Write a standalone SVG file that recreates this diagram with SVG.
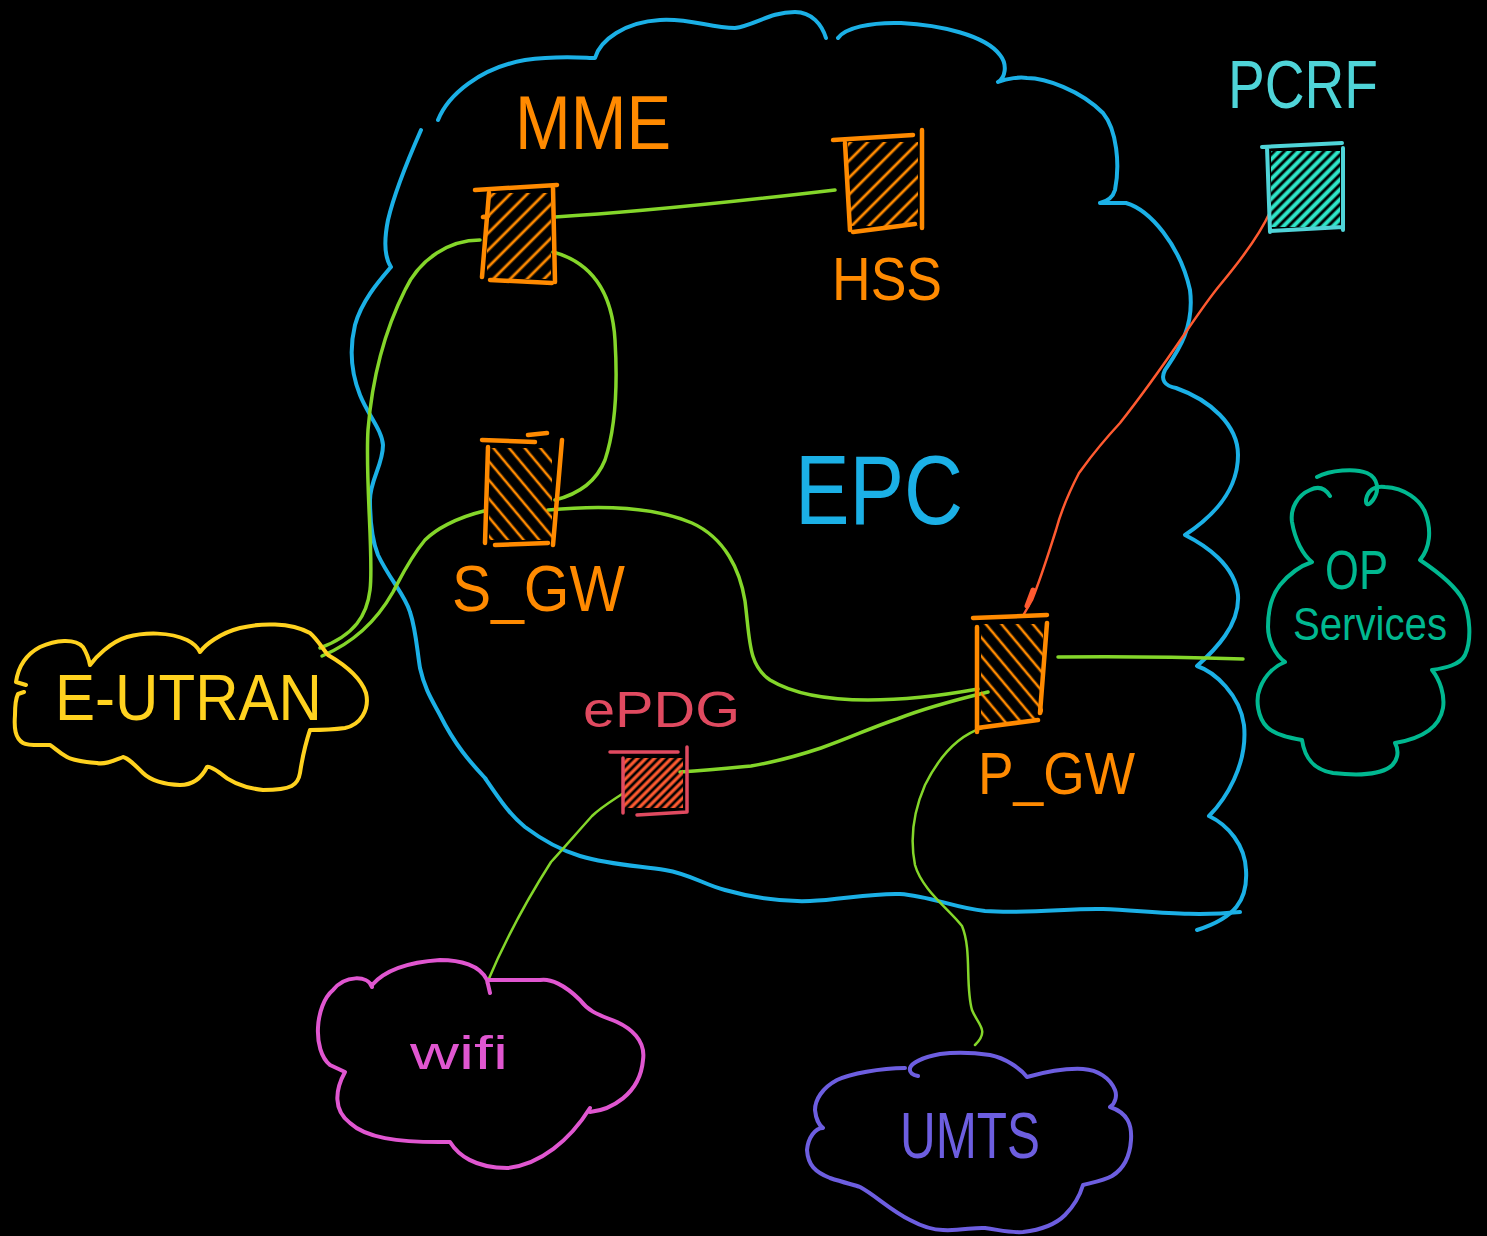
<svg xmlns="http://www.w3.org/2000/svg" width="1487" height="1236" viewBox="0 0 1487 1236">
  <style>
    .stroke { fill: none; stroke-linecap: round; stroke-linejoin: round; }
    .cloud { stroke-width: 4; }
    .epc { stroke: #1bb0e6; }
    .link { stroke: #84d62a; stroke-width: 3.5; }
    .thin { stroke-width: 2.5; }
    .box { stroke: #ff8a00; stroke-width: 4.5; }
    .lbl { font-family: "Liberation Sans", "DejaVu Sans", sans-serif; font-weight: 400; }
    .orange { fill: #ff8a00; }
  </style>
  <defs>
    <pattern id="hatchFwd" patternUnits="userSpaceOnUse" width="12" height="12" patternTransform="rotate(45)">
      <line x1="6" y1="0" x2="6" y2="12" stroke="#ff8a00" stroke-width="2.8"/>
    </pattern>
    <pattern id="hatchBack" patternUnits="userSpaceOnUse" width="12" height="12" patternTransform="rotate(-40)">
      <line x1="6" y1="0" x2="6" y2="12" stroke="#ff8a00" stroke-width="2.6"/>
    </pattern>
    <pattern id="hatchRed" patternUnits="userSpaceOnUse" width="6" height="6" patternTransform="rotate(45)">
      <line x1="3" y1="0" x2="3" y2="6" stroke="#ff5a30" stroke-width="3.2"/>
    </pattern>
    <pattern id="hatchTeal" patternUnits="userSpaceOnUse" width="7" height="7" patternTransform="rotate(45)">
      <line x1="3.5" y1="0" x2="3.5" y2="7" stroke="#2ee6c8" stroke-width="4"/>
    </pattern>
  </defs>

  <rect x="0" y="0" width="1487" height="1236" fill="#000"/>

  <!-- EPC core cloud -->
  <g id="epc-cloud">
    <path class="stroke cloud epc" d="M438,120 C448,95 480,68 525,60 C560,55 585,58 595,58 C600,40 625,22 660,20 C690,18 710,28 735,28 C755,25 770,12 795,12 C812,12 822,25 826,38"/>
    <path class="stroke cloud epc" d="M838,38 C845,28 870,22 901,23 C940,25 985,35 1000,55 C1008,65 1005,78 998,82 C1008,78 1020,77 1027,78 C1045,78 1080,90 1103,113 C1117,130 1120,165 1115,190 C1113,197 1108,201 1100,203 L1126,203 C1150,210 1180,245 1190,290 C1195,330 1175,355 1165,370 C1160,380 1165,386 1176,388 C1210,400 1238,425 1238,455 C1238,490 1215,515 1185,535 C1205,545 1235,565 1238,595 C1240,625 1215,650 1197,666 C1215,672 1240,695 1244,725 C1248,765 1225,800 1209,816 C1228,825 1245,845 1246,870 C1248,900 1235,918 1197,930"/>
    <path class="stroke cloud epc" d="M421,130 C410,155 395,190 388,220 C383,245 385,258 391,267 C380,280 362,300 355,325 C349,350 352,375 360,395 C368,415 382,430 383,445 C383,465 370,480 370,500 C370,525 372,540 378,555 C390,580 405,595 410,612 C416,630 417,650 420,668 C425,690 432,700 440,715 C455,745 470,762 485,778 C500,800 510,815 525,827 C545,842 560,850 580,856 C610,865 640,866 665,870 C690,874 705,885 725,890 C750,897 780,902 810,901 C840,900 870,893 900,894 C930,896 955,908 985,911 C1030,914 1070,908 1103,909 C1150,911 1190,917 1240,912"/>
    <text class="lbl" x="795" y="524" font-size="98" fill="#1bb0e6" textLength="168" lengthAdjust="spacingAndGlyphs">EPC</text>
  </g>

  <!-- connectors -->
  <g id="connectors">
    <path class="stroke link" stroke-width="4.5" d="M555,217 C640,212 750,200 835,190"/>
    <path class="stroke link" d="M480,240 C450,240 420,258 405,290 C385,330 372,380 368,430 C365,480 374,560 370,590 C367,615 355,635 320,648"/>
    <path class="stroke link" d="M553,252 C590,262 612,290 615,340 C618,390 615,430 605,460 C595,485 575,495 555,500"/>
    <path class="stroke link" d="M484,511 C455,518 435,530 425,540 C410,558 402,575 393,592 C380,615 360,640 322,656"/>
    <path class="stroke link" d="M548,510 C590,506 650,505 692,523 C725,538 740,570 745,601 C750,640 748,665 770,680 C800,698 840,700 868,700 C910,700 945,695 978,689"/>
    <path class="stroke link" stroke-width="3" d="M680,772 C710,770 730,768 751,766 C775,762 800,755 821,748 C850,738 870,728 897,719 C925,708 955,700 988,692"/>
    <path class="stroke link thin" d="M622,794 C610,802 600,808 592,816 C575,835 562,850 551,862 C530,895 505,940 487,983"/>
    <path class="stroke link thin" d="M982,728 C960,735 940,755 925,785 C912,815 910,840 915,865 C922,890 950,910 962,926 C972,950 965,985 972,1010 C978,1025 990,1030 975,1045"/>
    <path class="stroke link" stroke-width="4" d="M1058,657 C1120,656 1180,657 1243,659"/>
    <path class="stroke" stroke="#ff5a30" stroke-width="2.5" d="M1270,212 C1262,230 1245,255 1220,285 C1195,315 1170,360 1120,423 C1095,450 1085,465 1079,473 C1065,500 1060,515 1056,530 C1048,555 1042,575 1032,600 L1024,614"/>
    <path class="stroke" stroke="#ff5a30" stroke-width="5" d="M1033,590 L1027,606"/>
  </g>

  <!-- MME -->
  <g id="mme">
    <rect x="487" y="193" width="64" height="86" fill="url(#hatchFwd)"/>
    <path class="stroke box" d="M475,190 L557,185 M489,193 L482,277 M553,187 L555,282 M490,280 L552,283 M483,217 L488,216"/>
    <text class="lbl orange" x="515" y="149" font-size="76" textLength="156" lengthAdjust="spacingAndGlyphs">MME</text>
  </g>

  <!-- HSS -->
  <g id="hss">
    <rect x="848" y="142" width="70" height="84" fill="url(#hatchFwd)"/>
    <path class="stroke box" d="M833,140 L913,135 M845,143 L850,230 M922,130 L922,228 M853,232 L915,224"/>
    <text class="lbl orange" x="832" y="300" font-size="62" textLength="110" lengthAdjust="spacingAndGlyphs">HSS</text>
  </g>

  <!-- S_GW -->
  <g id="s-gw">
    <rect x="489" y="448" width="63" height="92" fill="url(#hatchBack)"/>
    <path class="stroke box" d="M482,440 L535,442 M528,435 L547,433 M488,447 L485,543 M562,440 L553,545 M495,545 L548,543"/>
    <text class="lbl orange" x="452" y="611" font-size="65" textLength="173" lengthAdjust="spacingAndGlyphs">S_GW</text>
  </g>

  <!-- P_GW -->
  <g id="p-gw">
    <rect x="981" y="624" width="62" height="98" fill="url(#hatchBack)"/>
    <path class="stroke box" d="M973,618 L1047,615 M977,627 L977,732 M1047,623 L1040,713 M977,728 L1038,720"/>
    <text class="lbl orange" x="978" y="794" font-size="60" textLength="157" lengthAdjust="spacingAndGlyphs">P_GW</text>
  </g>

  <!-- ePDG -->
  <g id="epdg">
    <rect x="623" y="758" width="60" height="50" fill="url(#hatchRed)"/>
    <path class="stroke" stroke="#e04a60" stroke-width="3.5" d="M610,752 L678,752 M623,758 L623,813 M687,747 L687,812 M637,815 L687,812"/>
    <text class="lbl" x="583" y="727" font-size="50" fill="#e04a60" textLength="157" lengthAdjust="spacingAndGlyphs">ePDG</text>
  </g>

  <!-- PCRF -->
  <g id="pcrf">
    <rect x="1271" y="151" width="69" height="76" fill="url(#hatchTeal)"/>
    <path class="stroke" stroke="#4fd4d8" stroke-width="4" d="M1262,147 L1342,143 M1267,147 L1270,232 M1343,148 L1343,230 M1270,231 L1343,227"/>
    <text class="lbl" x="1228" y="108" font-size="68" fill="#4fd4d8" textLength="150" lengthAdjust="spacingAndGlyphs">PCRF</text>
  </g>

  <!-- E-UTRAN -->
  <g id="e-utran">
    <path class="stroke cloud" stroke="#ffd21f" d="M26,685 L16,682 C18,668 25,655 40,647 C55,640 75,638 83,647 C88,655 89,660 90,665 C95,658 110,642 127,637 C145,632 170,632 187,640 C195,644 198,648 200,652 C205,645 220,633 240,628 C260,623 290,622 310,633 C318,640 322,648 328,655 C340,662 360,675 366,693 C370,710 360,725 345,728 C330,730 318,730 310,730 C305,745 302,760 300,773 C298,785 292,790 263,790 C245,788 230,782 220,773 C213,768 208,766 207,767 C203,775 195,785 180,785 C165,785 150,780 143,773 C135,765 128,758 123,757 C115,760 105,765 97,763 C85,762 72,760 67,757 C58,752 55,748 50,745 C40,745 28,746 23,743 C15,738 14,728 15,715 C15,705 16,698 18,694 L24,692"/>
    <text class="lbl" x="55" y="720" font-size="64" fill="#ffd21f" textLength="267" lengthAdjust="spacingAndGlyphs">E-UTRAN</text>
  </g>

  <!-- OP services -->
  <g id="op-services">
    <path class="stroke cloud" stroke="#00b890" d="M1317,477 C1330,470 1355,468 1367,473 C1378,478 1380,490 1373,500 C1368,507 1364,505 1367,496 C1370,488 1378,486 1385,487 C1405,488 1420,500 1425,512 C1432,530 1430,548 1420,560 C1435,570 1455,585 1463,600 C1470,615 1472,640 1465,655 C1460,665 1445,668 1432,670 C1440,680 1445,695 1443,708 C1440,725 1425,738 1395,743 C1400,752 1397,762 1390,767 C1380,774 1360,776 1333,773 C1315,770 1305,760 1302,740 C1290,738 1275,735 1267,727 C1258,718 1255,700 1260,688 C1265,675 1275,666 1285,662 C1275,655 1268,640 1268,627 C1268,610 1272,595 1280,585 C1290,573 1300,566 1312,562 C1303,555 1295,540 1292,522 C1290,508 1298,495 1310,490 C1318,486 1325,488 1330,496"/>
    <text class="lbl" x="1325" y="589" font-size="56" fill="#00b890" textLength="63" lengthAdjust="spacingAndGlyphs">OP</text>
    <text class="lbl" x="1293" y="640" font-size="46" fill="#00b890" textLength="154" lengthAdjust="spacingAndGlyphs">Services</text>
  </g>

  <!-- wifi -->
  <g id="wifi">
    <path class="stroke cloud" stroke="#e056d0" stroke-width="3.5" d="M372,987 C368,975 345,975 333,990 C315,1005 312,1050 330,1065 L345,1072 C335,1090 333,1110 350,1123 C365,1137 395,1143 450,1142 C458,1155 475,1168 507,1168 C540,1165 570,1140 590,1108 M590,1112 C610,1110 640,1095 643,1060 C646,1040 630,1028 617,1022 C600,1015 590,1013 580,1000 C565,985 550,978 540,980 L487,980 C480,965 460,960 440,960 C410,962 385,970 372,985 M487,980 L490,993"/>
    <text class="lbl" x="410" y="1069" font-size="46" fill="#e056d0" textLength="98" lengthAdjust="spacingAndGlyphs">wifi</text>
  </g>

  <!-- UMTS -->
  <g id="umts">
    <path class="stroke cloud" stroke="#6d5ee0" stroke-width="3.5" d="M905,1068 C880,1068 850,1074 837,1080 C822,1088 815,1100 815,1110 C816,1120 820,1126 823,1128 C815,1128 808,1138 807,1150 C808,1165 815,1172 830,1178 C845,1183 855,1185 860,1187 C875,1195 890,1210 910,1220 C925,1228 935,1230 943,1230 C960,1231 975,1227 985,1228 C1000,1230 1010,1233 1023,1232 C1040,1230 1055,1225 1065,1215 C1075,1205 1080,1195 1083,1185 C1095,1182 1105,1180 1112,1176 C1125,1168 1130,1155 1131,1140 C1132,1125 1128,1113 1110,1107 C1116,1103 1117,1095 1115,1090 C1110,1078 1098,1070 1083,1069 C1065,1068 1045,1072 1027,1077 C1020,1068 1005,1058 990,1055 C970,1052 955,1052 940,1054 C925,1057 912,1062 910,1068 C909,1073 913,1075 918,1076"/>
    <text class="lbl" x="900" y="1158" font-size="64" fill="#6d5ee0" textLength="140" lengthAdjust="spacingAndGlyphs">UMTS</text>
  </g>
</svg>
